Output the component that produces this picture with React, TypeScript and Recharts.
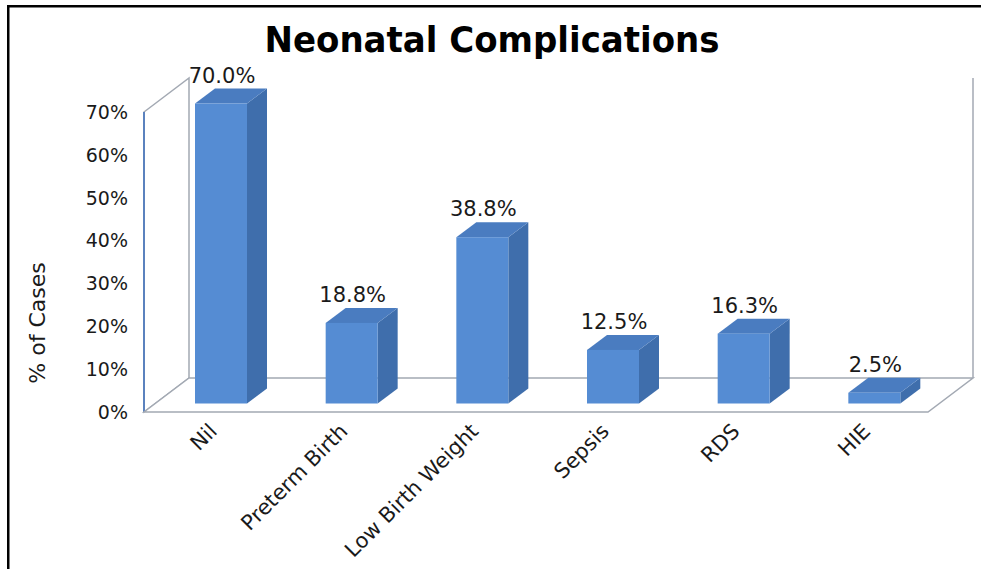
import { BarChart, Bar, XAxis, YAxis, LabelList } from 'recharts';

const categories = ['Nil', 'Preterm Birth', 'Low Birth Weight', 'Sepsis', 'RDS', 'HIE'];
const percentCases = [70.0, 18.8, 38.8, 12.5, 16.3, 2.5];
const yTicks = [0, 10, 20, 30, 40, 50, 60, 70];

const data = categories.map((name, i) => ({ name, value: percentCases[i] }));

const COLORS = {
  front: '#558CD3',
  side: '#3F6EAC',
  top: '#4A7CC0',
  wallBlue: '#5B82BE',
  wallGray: '#A3A9B3',
  text: '#1a1a1a',
};

const FONT = "'DejaVu Sans', Verdana, sans-serif";

const W = 981;
const H = 569;

/* ── 3d box geometry: front plane, depth, where the bars stand ── */
const FRONT_LEFT = 144;
const FRONT_RIGHT = 928;
const FRONT_BASE = 412;
const DEPTH_X = 45;
const DEPTH_Y = 34;
const PLOT_H = 300; // 0 → 70 %
const BAR_SHIFT_X = 12;
const BAR_SHIFT_Y = 8.5;
const BAR_DX = 20;
const BAR_DY = 15;

const PLOT_LEFT = FRONT_LEFT + BAR_SHIFT_X;
const PLOT_RIGHT = FRONT_RIGHT + BAR_SHIFT_X;
const PLOT_BOTTOM = FRONT_BASE - BAR_SHIFT_Y;
const PLOT_TOP = PLOT_BOTTOM - PLOT_H;
const X_AXIS_H = 30;

function Bar3D(props: any) {
  const { x, y, width, height } = props;
  if (width == null || height == null) return null;
  const r = x + width;
  const b = y + height;
  return (
    <g>
      <polygon
        points={`${r},${y} ${r + BAR_DX},${y - BAR_DY} ${r + BAR_DX},${b - BAR_DY} ${r},${b}`}
        fill={COLORS.side}
      />
      <polygon
        points={`${x},${y} ${x + BAR_DX},${y - BAR_DY} ${r + BAR_DX},${y - BAR_DY} ${r},${y}`}
        fill={COLORS.top}
      />
      <rect x={x} y={y} width={width} height={height} fill={COLORS.front} />
    </g>
  );
}

function Walls() {
  const fl = FRONT_LEFT, fr = FRONT_RIGHT, fb = FRONT_BASE;
  const bl = fl + DEPTH_X, br = fr + DEPTH_X, bb = fb - DEPTH_Y;
  const ft = fb - PLOT_H, bt = bb - PLOT_H;
  return (
    <svg width={W} height={H} style={{ position: 'absolute', left: 0, top: 0 }}>
      {/* page frame */}
      <rect x={7} y={5} width={W - 7} height={2.5} fill="#000" />
      <rect x={7} y={5} width={2.5} height={H - 5} fill="#000" />
      {/* left wall */}
      <polygon points={`${fl},${ft} ${bl},${bt} ${bl},${bb} ${fl},${fb}`} fill="#fff" stroke={COLORS.wallGray} strokeWidth={1.5} />
      <line x1={fl} y1={ft} x2={fl} y2={fb} stroke={COLORS.wallBlue} strokeWidth={2} />
      {/* floor */}
      <polygon points={`${fl},${fb} ${fr},${fb} ${br},${bb} ${bl},${bb}`} fill="#fff" stroke={COLORS.wallGray} strokeWidth={1.5} />
      {/* back wall right edge */}
      <line x1={br} y1={bb} x2={br} y2={bt} stroke={COLORS.wallGray} strokeWidth={1.5} />
      <text x={492} y={52} textAnchor="middle" fontFamily={FONT} fontWeight="bold" fontSize={35}
        textLength={455} lengthAdjust="spacingAndGlyphs" fill="#000">
        Neonatal Complications
      </text>
      <text x={45} y={323} transform="rotate(-90 45 323)" textAnchor="middle" fontFamily={FONT} fontSize={22} fill={COLORS.text}>
        % of Cases
      </text>
    </svg>
  );
}

export default function App() {
  return (
    <div style={{ position: 'absolute', left: 0, top: 0, width: W, height: H, background: '#fff', overflow: 'hidden' }}>
      <Walls />
      <div style={{ position: 'absolute', left: 0, top: 0 }}>
        <BarChart
          width={W}
          height={H}
          data={data}
          margin={{ top: PLOT_TOP, right: W - PLOT_RIGHT, bottom: H - PLOT_BOTTOM - X_AXIS_H, left: 0 }}
        >
          <XAxis
            dataKey="name"
            interval={0}
            height={X_AXIS_H}
            axisLine={false}
            tickLine={false}
            tickSize={0}
            tickMargin={0}
            tick={({ x, y, payload }: any) => (
              <text
                transform={`translate(${x - 3},${y + 29}) rotate(-45)`}
                textAnchor="end"
                fontFamily={FONT}
                fontSize={21}
                fill={COLORS.text}
              >
                {payload.value}
              </text>
            )}
          />
          <YAxis
            domain={[0, 70]}
            ticks={yTicks}
            width={PLOT_LEFT}
            axisLine={false}
            tickLine={false}
            tickSize={0}
            tickMargin={0}
            tick={({ x, y, payload }: any) => (
              <text x={x - 28} y={y + BAR_SHIFT_Y} dy="0.36em" textAnchor="end" fontFamily={FONT} fontSize={19} fill={COLORS.text}>
                {`${payload.value}%`}
              </text>
            )}
          />
          <Bar dataKey="value" barSize={52} shape={Bar3D} isAnimationActive={false}>
            <LabelList
              dataKey="value"
              content={(p: any) => (
                <text x={p.x + p.width / 2 + 1} y={p.y - 21} textAnchor="middle" fontFamily={FONT} fontSize={21} fill={COLORS.text}>
                  {`${Number(p.value).toFixed(1)}%`}
                </text>
              )}
            />
          </Bar>
        </BarChart>
      </div>
    </div>
  );
}
